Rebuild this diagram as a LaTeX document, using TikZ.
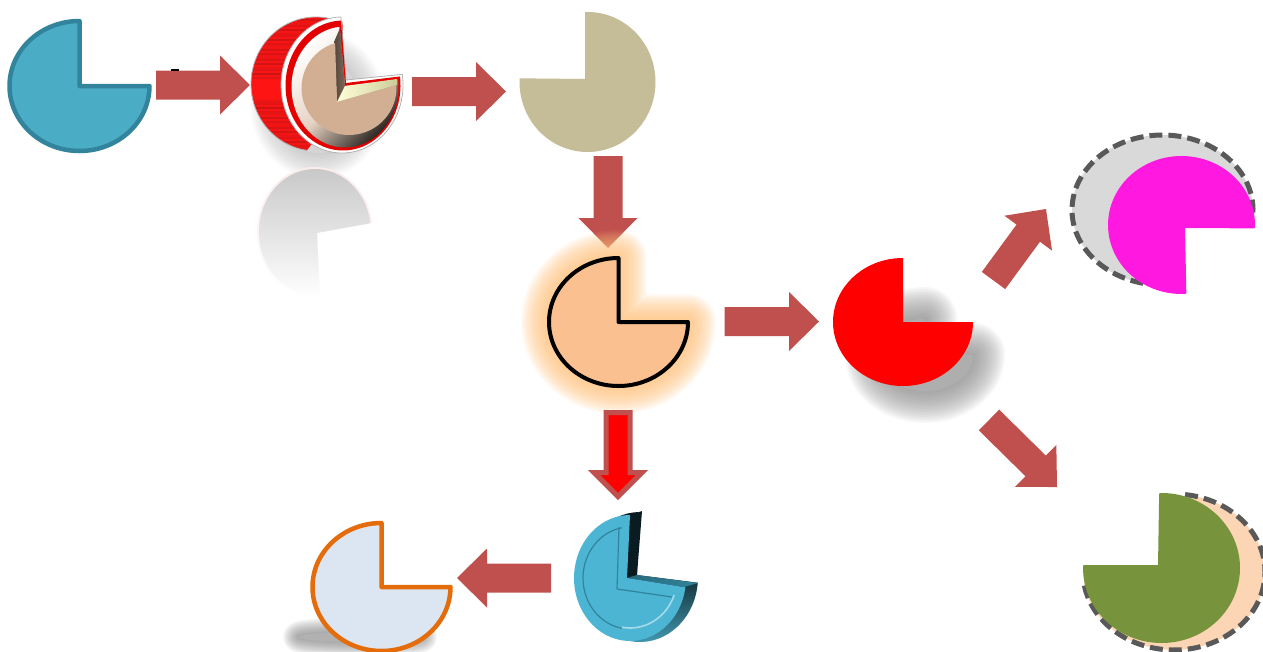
\documentclass[tikz,border=0pt]{standalone}
\usetikzlibrary{calc}
\definecolor{arrowred}{HTML}{C0504D}
\definecolor{tealfill}{HTML}{4BACC6}
\definecolor{tealface}{HTML}{4CB5D3}
\definecolor{tealline}{HTML}{31849B}
\definecolor{tealdark}{HTML}{0A1C22}
\definecolor{khaki}{HTML}{C4BD97}
\definecolor{peach}{HTML}{FAC090}
\definecolor{glow}{HTML}{FFC680}
\definecolor{paleblue}{HTML}{DCE6F2}
\definecolor{orangeline}{HTML}{E46C0A}
\definecolor{magentafill}{HTML}{FF19E0}
\definecolor{olive}{HTML}{77933C}
\definecolor{dashgray}{HTML}{595959}
\definecolor{lightgray2}{HTML}{D9D9D9}
\definecolor{lightpeach}{HTML}{FCD5B5}
\definecolor{tan}{HTML}{D2AE92}
\tikzset{
  arrowbody/.style={fill=arrowred},
  pieline/.style={line join=round,line width=4.5pt},
  dashrim/.style={draw=dashgray,line width=5pt,dash pattern=on 13pt off 6pt},
}
% apex x,y ; ellipse centre x,y ; radii x,y ; start,end angle (pixel coordinates, y downwards)
\newcommand{\piepath}[8]{(#1,-#2) -- ({#3+#5*cos(#7)},{-#4+#6*sin(#7)}) arc[start angle=#7,end angle=#8,x radius=#5pt,y radius=#6pt] -- cycle}
\newcommand{\softlayers}[4]{%
  \colorlet{softbase}{#1}%
  \foreach \i in {1,...,20}{%
    \pgfmathsetmacro\lw{2*#3*\i/20}%
    \draw[softbase,opacity=#2,line width=\lw pt,line join=round,line cap=round] #4;
  }%
  \pgfmathsetmacro\cumpct{100*(1-(1-#2)^20)}%
  \fill[softbase!\cumpct!white] #4;
}
\newcommand{\blockarrow}[6][]{%
  \coordinate (h) at ($(#3)!#6pt!(#2)$);
  \path[arrowbody,#1] ($(#2)!#4pt!90:(#3)$) -- ($(h)!#4pt!90:(#3)$) -- ($(h)!#5pt!90:(#3)$) -- (#3)
    -- ($(h)!#5pt!-90:(#3)$) -- ($(h)!#4pt!-90:(#3)$) -- ($(#2)!#4pt!-90:(#3)$) -- cycle;
}
\begin{document}
\begin{tikzpicture}[x=1pt,y=1pt]
\useasboundingbox (0,-651) rectangle (1263,0);
\clip (0,-651) rectangle (1263,0);
\fill[white] (0,-651) rectangle (1263,0);

% end points of the block arrows
\coordinate (a1s) at (156,-85);   \coordinate (a1e) at (250,-85);
\coordinate (a2s) at (412,-91.5); \coordinate (a2e) at (506,-91.5);
\coordinate (a3s) at (608,-156);  \coordinate (a3e) at (608,-248);
\coordinate (a4s) at (724.5,-321.5); \coordinate (a4e) at (819,-321.5);
\coordinate (a5s) at (618,-412.5); \coordinate (a5e) at (618,-496.5);
\coordinate (a6s) at (551,-578);  \coordinate (a6e) at (457,-578);
\coordinate (a7s) at (993.5,-280.5); \coordinate (a7e) at (1046,-209);
\coordinate (a8s) at (989,-420);  \coordinate (a8e) at (1057,-487);

\blockarrow{a3s}{a3e}{14.5}{29.5}{30}

% ---------- teal pie
\draw[pieline,draw=tealline,fill=tealfill] \piepath{79.5}{86}{79.5}{86}{70}{65}{0}{-270};

% ---------- 3D red pie: shadow, reflection, body, front
\softlayers{gray}{0.02}{26}{(318,-105) ellipse [x radius=42pt,y radius=48pt]}
\shade[top color=black!20!red!8!white,bottom color=white] \piepath{317}{232}{315}{232}{58}{65}{8}{275};
\shade[top color=black!22,bottom color=white] \piepath{317}{233}{315}{232}{56}{63}{8}{275};
\blockarrow{a1s}{a1e}{14.5}{29.5}{30}
\fill[black] (171,-69) rectangle (179,-70.5);
\begin{scope}
  \clip ({316+65*cos(66)},{-84+67*sin(66)}) arc[start angle=66,end angle=262,x radius=65pt,y radius=67pt] -- (345,-100) -- cycle;
  \foreach \y in {15,17,...,153}{%
    \pgfmathtruncatemacro\v{\y>78 && \y<98 ? 100 : 78+20*abs(sin(\y*37))}%
    \fill[red!\v!black!92!white] (245,-\y) rectangle (350,-\y-2);
  }
\end{scope}
\draw[black!30,line width=.8pt] ({316+65*cos(66)},{-84+67*sin(66)}) arc[start angle=66,end angle=262,x radius=65pt,y radius=67pt];
\draw[fill=white,draw=black!30,line width=.8pt,line join=round] \piepath{346}{80}{342}{85}{61}{68}{9}{-269};
\fill[red!90!black] \piepath{346}{83}{343}{85.5}{57.5}{65}{8}{-268};
\shade[top color=white,bottom color=black!85!tan,middle color=white!45!tan,shading angle=45] \piepath{345}{86}{345}{87}{53.5}{60.5}{7}{-264};
\shade[left color=black!60!tan,right color=tan!60!black] (340,-28) -- (345,-86) -- (337,-102) -- (334,-42) -- cycle;
\shade[left color=yellow!15!white,right color=black!50!yellow!40!white] (345,-86) -- (397,-79) -- (397,-85) -- (337,-102) -- cycle;
\fill[tan] \piepath{337}{102}{349}{88}{47.5}{47}{3.6}{-253};

% ---------- khaki pie
\blockarrow{a2s}{a2e}{14.5}{29.5}{30}
\fill[khaki] \piepath{585}{79}{587.5}{82}{68}{70}{92}{-183};

% ---------- peach pie with glow
\softlayers{glow}{0.075}{28}{\piepath{618.5}{322}{618.5}{322}{69.5}{64}{0}{-270}}
\draw[line join=round,line width=4pt,draw=black,fill=peach] \piepath{618.5}{322}{618.5}{322}{69.5}{64}{0}{-270};
\blockarrow{a4s}{a4e}{14.5}{29.5}{30}
\blockarrow[fill=red,draw=arrowred,line width=5pt,miter limit=10]{a5s}{a5e}{12}{24}{24}

% ---------- red pie with shadow
\softlayers{black!45}{0.06}{32}{\piepath{922}{355}{925}{355}{48}{36}{0}{-270}}
\fill[red] \piepath{903}{322}{903}{322}{70}{64}{0}{-270};
\blockarrow{a7s}{a7e}{14.5}{29.5}{30}
\blockarrow{a8s}{a8e}{14.5}{29.5}{30}

% ---------- magenta pie on dashed grey
\fill[lightgray2] \piepath{1170}{215}{1162.5}{210}{90.5}{75}{-2}{268};
\draw[dashrim] ({1162.5+90.5*cos(-2)},{-210+75*sin(-2)}) arc[start angle=-2,end angle=268,x radius=90.5pt,y radius=75pt];
\draw[magentafill,fill=magentafill,line width=2pt,line join=round] \piepath{1184}{227}{1181.5}{225}{72.5}{68}{-2}{273};

% ---------- olive pie on dashed peach
\fill[lightpeach] \piepath{1165}{570}{1174}{572}{91}{78}{83}{-172};
\draw[dashrim] ({1174+91*cos(83)},{-572+78*sin(83)}) arc[start angle=83,end angle=-172,x radius=91pt,y radius=78pt];
\draw[olive,fill=olive,line width=2pt,line join=round] \piepath{1159}{566}{1161.5}{568}{77.5}{74}{91}{-181.5};

% ---------- 3D teal pie
\shade[top color=tealdark,bottom color=tealfill!90!black,middle color=tealdark!85!tealfill] \piepath{637}{575}{640}{577}{58}{65}{-5}{-268};
\fill[tealdark] (630,-515) -- (642,-511) -- (637,-575) -- (627,-578) -- cycle;
\shade[left color=tealline!80!black,right color=tealline] (627,-578) -- (637,-575) -- (698,-583) -- (684,-587) -- cycle;
\fill[tealface] \piepath{627}{578}{630}{578}{56}{63}{-8.5}{-270};
\draw[tealline,line width=1.2pt,line join=round] (672,-597) -- (617,-589) -- (619,-527);
\draw[tealline,line width=1.2pt] ({630+47*cos(100)},{-578+51*sin(100)}) arc[start angle=100,end angle=260,x radius=47pt,y radius=51pt];
\draw[white!50!tealface,line width=1.6pt] ({630+47*cos(-100)},{-578+50*sin(-100)}) arc[start angle=-100,end angle=-20,x radius=47pt,y radius=50pt];

% ---------- pale blue pie
\blockarrow{a6s}{a6e}{14.5}{29.5}{30}
\softlayers{black!55}{0.04}{15}{(360,-637) ellipse [x radius=62pt,y radius=5pt]}
\draw[pieline,draw=orangeline,fill=paleblue] \piepath{381.5}{587}{381.5}{587}{69}{64}{0}{-270};
\end{tikzpicture}
\end{document}
